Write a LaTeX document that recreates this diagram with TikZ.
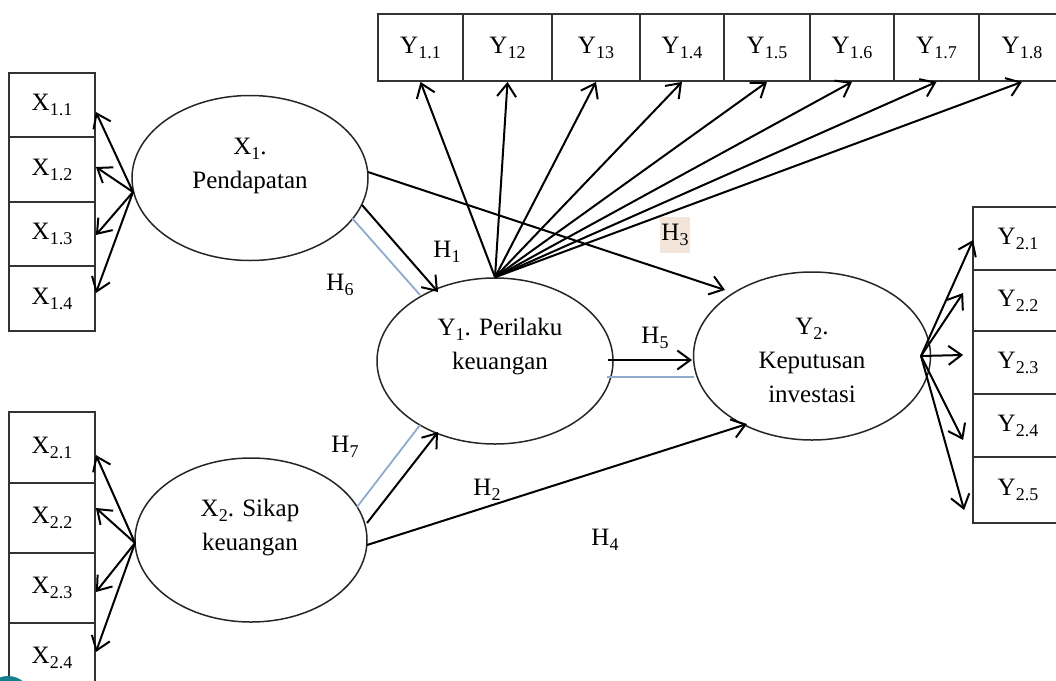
\documentclass[tikz,border=0pt]{standalone}
\usepackage{fontspec}
\setmainfont{Liberation Serif}
\usetikzlibrary{arrows.meta,calc,shapes.geometric}
\definecolor{edgeblue}{HTML}{8FAACB}
\definecolor{hbg}{HTML}{F3E5DA}
\definecolor{cornerteal}{HTML}{17808F}
\newcommand\sbs[1]{\raisebox{-5pt}{\fontsize{18}{18}\selectfont #1}}
\begin{document}
\begin{tikzpicture}[x=1pt,y=-1pt,
  ind/.style={draw=black!80, line width=1.8pt, inner sep=0pt, font=\fontsize{25}{27}\selectfont},
  lat/.style={draw=black!85, line width=1.5pt, ellipse, inner sep=0pt},
  txt/.style={font=\fontsize{25}{34}\selectfont, align=center, inner sep=0pt},
  arr/.style={-{Straight Barb[length=13pt,width=19pt]}, line width=2pt},
  bl/.style={draw=edgeblue, line width=1.8pt},
  hl/.style={font=\fontsize{25}{27}\selectfont, inner sep=1pt}]
\useasboundingbox (0,0) rectangle (1056,680);
\clip (0,0) rectangle (1056,680);
% X1 indicator boxes
\node[ind, minimum width=86pt, minimum height=64.5pt] (x11) at (52,105) {X\sbs{1.1}};
\node[ind, minimum width=86pt, minimum height=64.5pt] (x12) at (52,169.5) {X\sbs{1.2}};
\node[ind, minimum width=86pt, minimum height=64.5pt] (x13) at (52,234) {X\sbs{1.3}};
\node[ind, minimum width=86pt, minimum height=64.5pt] (x14) at (52,298.5) {X\sbs{1.4}};
% X2 indicator boxes
\node[ind, minimum width=86pt, minimum height=71pt] (x21) at (52,447.5) {X\sbs{2.1}};
\node[ind, minimum width=86pt, minimum height=70pt] (x22) at (52,518) {X\sbs{2.2}};
\node[ind, minimum width=86pt, minimum height=70pt] (x23) at (52,588) {X\sbs{2.3}};
\node[ind, minimum width=86pt, minimum height=70pt] (x24) at (52,658) {X\sbs{2.4}};
% Y1 indicator boxes
\node[ind, minimum width=85pt, minimum height=67pt] (y11) at (420.5,47.5) {Y\sbs{1.1}};
\node[ind, minimum width=89pt, minimum height=67pt] (y12) at (507.5,47.5) {Y\sbs{12}};
\node[ind, minimum width=88pt, minimum height=67pt] (y13) at (596,47.5) {Y\sbs{13}};
\node[ind, minimum width=84pt, minimum height=67pt] (y14) at (682,47.5) {Y\sbs{1.4}};
\node[ind, minimum width=86pt, minimum height=67pt] (y15) at (767,47.5) {Y\sbs{1.5}};
\node[ind, minimum width=84pt, minimum height=67pt] (y16) at (852,47.5) {Y\sbs{1.6}};
\node[ind, minimum width=85pt, minimum height=67pt] (y17) at (936.5,47.5) {Y\sbs{1.7}};
\node[ind, minimum width=86pt, minimum height=67pt] (y18) at (1022,47.5) {Y\sbs{1.8}};
% Y2 indicator boxes
\node[ind, minimum width=90pt, minimum height=63pt] (y21) at (1018,238.5) {Y\sbs{2.1}};
\node[ind, minimum width=90pt, minimum height=61pt] (y22) at (1018,300.5) {Y\sbs{2.2}};
\node[ind, minimum width=90pt, minimum height=63pt] (y23) at (1018,362.5) {Y\sbs{2.3}};
\node[ind, minimum width=90pt, minimum height=63pt] (y24) at (1018,425.5) {Y\sbs{2.4}};
\node[ind, minimum width=90pt, minimum height=66pt] (y25) at (1018,490) {Y\sbs{2.5}};
% latent variables
\node[lat, minimum width=236pt, minimum height=165pt] (x1) at (250,178) {};
\node[lat, minimum width=232pt, minimum height=164pt] (x2) at (251,540) {};
\node[lat, minimum width=236pt, minimum height=166pt] (y1) at (495,361) {};
\node[lat, minimum width=237pt, minimum height=168pt] (y2) at (812,356) {};
\node[txt] (x1t) at (250,166) {X\sbs{1}.\\Pendapatan};
\node[txt] (x2t) at (250,528) {X\sbs{2}. Sikap\\keuangan};
\node[txt] (y1t) at (500,347) {Y\sbs{1}. Perilaku\\keuangan};
\node[txt] (y2t) at (812,360) {Y\sbs{2}.\\Keputusan\\investasi};
% hypothesis labels
\node[hl] (h1) at (447,252) {H\sbs{1}};
\node[hl] (h6) at (340,285) {H\sbs{6}};
\node[hl, fill=hbg, minimum width=30pt, minimum height=36pt] (h3) at (675,235) {H\sbs{3}};
\node[hl] (h5) at (655,338) {H\sbs{5}};
\node[hl] (h7) at (345,447) {H\sbs{7}};
\node[hl] (h2) at (487,490) {H\sbs{2}};
\node[hl] (h4) at (605,540) {H\sbs{4}};
% connector end points
\coordinate (x1l) at (133,192);
\coordinate (x2l) at (135,543);
\coordinate (y2r) at (921,356);
\coordinate (a1s) at (362,205);
\coordinate (a1t) at (438,292);
\coordinate (b1s) at (352,218);
\coordinate (b1t) at (420,295);
\coordinate (a2s) at (367,523);
\coordinate (a2t) at (438,432);
\coordinate (b2s) at (357,507);
\coordinate (b2t) at (420,425);
\coordinate (a3s) at (368,172);
\coordinate (a3t) at (725,290);
\coordinate (a5s) at (608,360);
\coordinate (a5t) at (692,360);
\coordinate (b5s) at (607,377);
\coordinate (b5t) at (694,377);
\coordinate (a4s) at (367,545);
\coordinate (a4t) at (747,424);
% X1 loadings
\draw[arr] (x1l) -- ($(x11.east)+(0,7)$);
\draw[arr] (x1l) -- ($(x12.east)+(0,-2.5)$);
\draw[arr] (x1l) -- ($(x13.east)+(0,1)$);
\draw[arr] (x1l) -- ($(x14.east)+(0,-5.5)$);
% X2 loadings
\draw[arr] (x2l) -- ($(x21.east)+(0,7.5)$);
\draw[arr] (x2l) -- ($(x22.east)+(0,-10)$);
\draw[arr] (x2l) -- ($(x23.east)+(0,4)$);
\draw[arr] (x2l) -- ($(x24.east)+(0,-6)$);
% Y1 loadings
\foreach \b in {y11,y12,y13,y14,y15,y16,y17,y18}
  \draw[arr] (y1.north) -- (\b.south);
% Y2 loadings
\draw[arr] (y2r) -- ($(y21.west)+(1,1.5)$);
\draw[arr] (y2r) -- ($(y22.west)+(-9,-7.5)$);
\draw[arr] (y2r) -- ($(y23.west)+(-9,-7.5)$);
\draw[arr] (y2r) -- ($(y24.west)+(-9,14.5)$);
\draw[arr] (y2r) -- ($(y25.west)+(-8,20)$);
% structural paths
\draw[bl] (b1s) -- (b1t);
\draw[arr] (a1s) -- (a1t);
\draw[bl] (b2s) -- (b2t);
\draw[arr] (a2s) -- (a2t);
\draw[arr] (a3s) -- (a3t);
\draw[bl] (b5s) -- (b5t);
\draw[arr] (a5s) -- (a5t);
\draw[arr] (a4s) -- (a4t);
% corner mark
\node[circle, fill=cornerteal, minimum size=48pt, inner sep=0pt] (dot) at (8,700) {};
\end{tikzpicture}
\end{document}
